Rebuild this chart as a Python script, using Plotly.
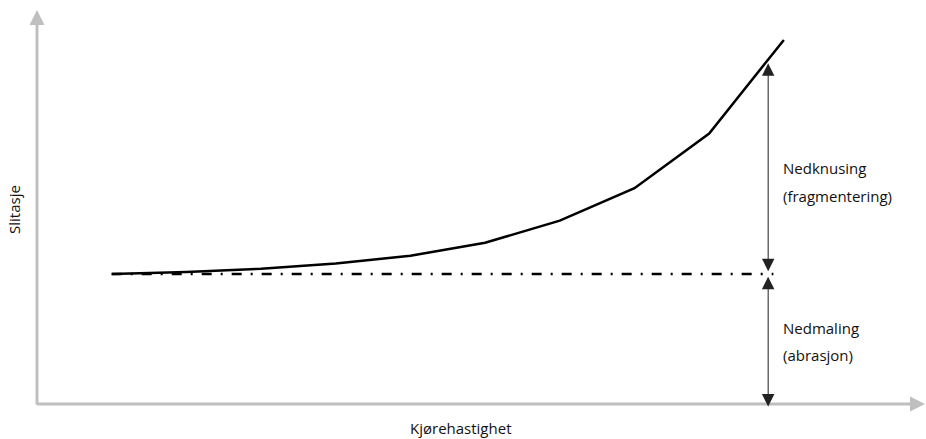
import plotly.graph_objects as go

# Data (arbitrary units)
speed = [1, 2, 3, 4, 5, 6, 7, 8, 9, 10]
wear = [1.0, 1.015, 1.04, 1.08, 1.14, 1.24, 1.41, 1.66, 2.08, 2.80]
abrasion_level = 1.0
abrasion_x = [1, 9.86]
arrow_x = 9.79
frag_top = 2.62
label_lines = [("Nedknusing", 1.815), ("(fragmentering)", 1.60),
               ("Nedmaling", 0.585), ("(abrasjon)", 0.377)]
x_title = "Kjørehastighet"
y_title = "Slitasje"

W, H = 926, 439
ml, mr, mt, mb = 37, 1, 10, 35
x_range = [0, 11.89]
y_range = [0, 3.03]
PW, PH = W - ml - mr, H - mt - mb

fig = go.Figure()
fig.add_trace(go.Scatter(x=speed, y=wear, mode="lines",
                         line=dict(color="black", width=2.5), hoverinfo="skip"))
fig.add_trace(go.Scatter(x=abrasion_x, y=[abrasion_level] * 2, mode="lines",
                         line=dict(color="black", width=2.5, dash="10px,9px,2px,9px"),
                         hoverinfo="skip"))

axis_col = "#BFBFBF"
ann = []
# axes with arrows
ann.append(dict(x=0, y=1.0, ax=0, ay=-0.005, xref="x domain", yref="y domain", axref="x domain", ayref="y domain",
                showarrow=True, arrowhead=2, arrowsize=1.0, arrowwidth=3, arrowcolor=axis_col, text=""))
ann.append(dict(x=1.0, y=0, ax=-0.002, ay=0, xref="x domain", yref="y domain", axref="x domain", ayref="y domain",
                showarrow=True, arrowhead=2, arrowsize=1.0, arrowwidth=3, arrowcolor=axis_col, text=""))
# double arrows
ann.append(dict(x=arrow_x, y=frag_top, ax=arrow_x, ay=abrasion_level + 0.01, xref="x", yref="y",
                axref="x", ayref="y", showarrow=True, arrowhead=2, startarrowhead=2,
                arrowside="end+start", arrowsize=2.5, startarrowsize=2.5, arrowwidth=1,
                arrowcolor="#222", text=""))
ann.append(dict(x=arrow_x, y=-0.02, ax=arrow_x, ay=abrasion_level - 0.01, xref="x", yref="y",
                axref="x", ayref="y", showarrow=True, arrowhead=2, startarrowhead=2,
                arrowside="end+start", arrowsize=2.5, startarrowsize=2.5, arrowwidth=1,
                arrowcolor="#222", text=""))
font = dict(family="Open Sans, sans-serif", size=15, color="#111")
for txt, yv in label_lines:
    ann.append(dict(x=9.96, y=yv, xref="x", yref="y", text=txt,
                    showarrow=False, xanchor="left", yanchor="middle", align="left", font=font))
ann.append(dict(x=(460 - 37) / PW, y=-(428 - 404) / PH, xref="paper", yref="paper",
                text=x_title, showarrow=False, xanchor="center", yanchor="middle", font=font))
ann.append(dict(x=-(37 - 14) / PW, y=(404 - 210) / PH, xref="paper", yref="paper",
                text=y_title, showarrow=False, textangle=-90, xanchor="center", yanchor="middle", font=font))

fig.update_layout(
    width=W, height=H, margin=dict(l=ml, r=mr, t=mt, b=mb),
    paper_bgcolor="white", plot_bgcolor="white", showlegend=False,
    xaxis=dict(range=x_range, visible=False, fixedrange=True),
    yaxis=dict(range=y_range, visible=False, fixedrange=True),
    annotations=ann,
)
fig.write_html("out.html", config={"displayModeBar": False},
               post_script="document.body.style.margin='0';document.body.style.overflow='hidden';")
